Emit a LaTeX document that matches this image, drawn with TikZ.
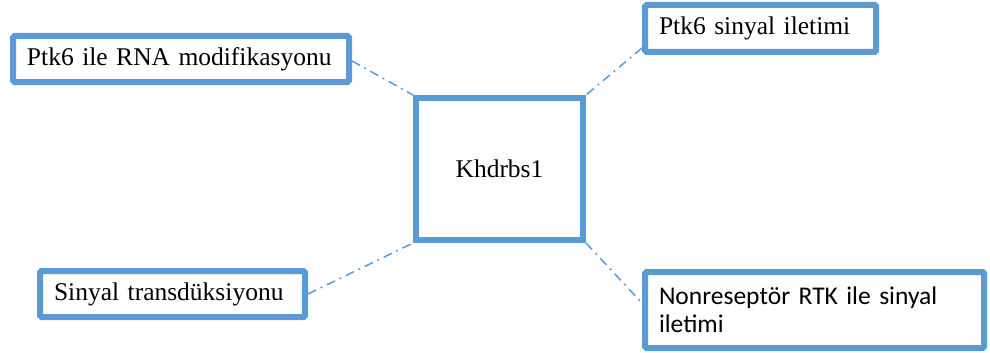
\documentclass[tikz,border=0pt]{standalone}
\usepackage{fontspec}
\setmainfont{Liberation Serif}
\newfontfamily\calibrifont{Carlito}
\definecolor{kutumavi}{HTML}{5B9BD5}
\begin{document}
\begin{tikzpicture}[x=1pt,y=-1pt,
		kutu/.style={draw=kutumavi,line width=6pt,rounded corners=1.5pt,fill=white,
			align=left,inner xsep=14pt,inner ysep=0pt,font=\fontsize{25.5}{28}\selectfont},
		baglanti/.style={kutumavi,line width=1.5pt,dash pattern=on 9pt off 5pt on 2pt off 5pt}]
	\useasboundingbox (0,0) rectangle (990,353);

	\node[kutu,sharp corners,align=center,minimum width=167pt,minimum height=142pt] (merkez) at (499.5,169) {Khdrbs1};
	\node[kutu,text width=308pt,minimum height=46pt] (mod) at (181,59) {Ptk6 ile RNA modifikasyonu};
	\node[kutu,text width=203pt,minimum height=47pt] (ptk) at (760.5,28.5) {Ptk6 sinyal iletimi};
	\node[kutu,text width=237pt,minimum height=46pt] (sin) at (172.5,294) {Sinyal transdüksiyonu};
	\node[kutu,text width=311pt,minimum height=76pt,font=\calibrifont\fontsize{25.5}{28}\selectfont] (non) at (814.5,310) {Nonreseptör RTK ile sinyal\\iletimi};

	\draw[baglanti] ([yshift=-2pt]mod.east) -- (merkez.north west);
	\draw[baglanti] ([yshift=7pt]ptk.south west) -- (merkez.north east);
	\draw[baglanti] (sin.east) -- (merkez.south west);
	\draw[baglanti] (merkez.south east) -- ([yshift=7pt]non.west);
\end{tikzpicture}
\end{document}
